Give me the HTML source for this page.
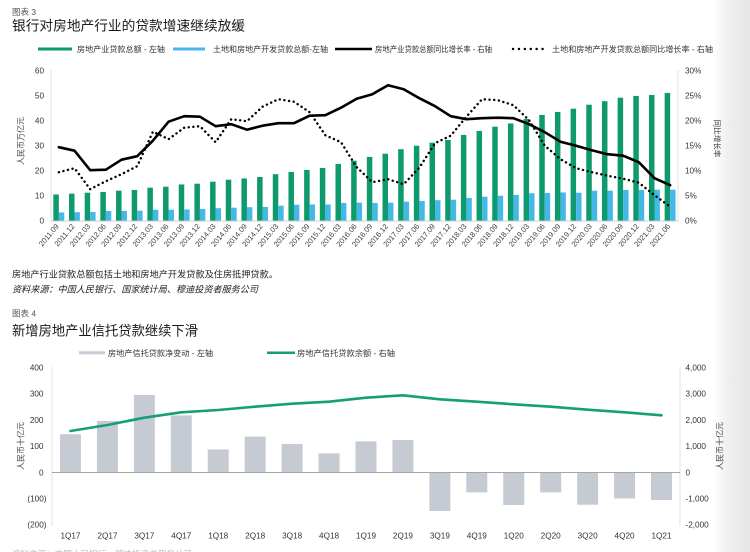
<!DOCTYPE html>
<html><head><meta charset="utf-8"><style>
html,body{margin:0;padding:0;background:#fff;}
svg{display:block;}
text{font-family:"Liberation Sans","Noto Sans CJK SC",sans-serif;}
</style></head><body>
<svg width="750" height="552" viewBox="0 0 750 552" xmlns="http://www.w3.org/2000/svg">
<defs>
<linearGradient id="edge" x1="0" y1="0" x2="1" y2="0">
<stop offset="0" stop-color="#ffffff"/>
<stop offset="0.45" stop-color="#eeeeee"/>
<stop offset="1" stop-color="#e7e7e7"/>
</linearGradient>
</defs>
<rect x="0" y="0" width="750" height="552" fill="#fff"/>
<rect x="713" y="0" width="37" height="552" fill="url(#edge)"/>

<!-- ===== Chart 3 header ===== -->
<text x="12" y="15" font-size="8.5" fill="#555">图表 3</text>
<text x="12" y="30.5" font-size="13.7" fill="#1a1a1a" textLength="233" lengthAdjust="spacingAndGlyphs">银行对房地产行业的贷款增速继续放缓</text>

<!-- legend -->
<rect x="38" y="47.5" width="34" height="3" fill="#0e9a6e"/>
<text x="77" y="52" font-size="8" fill="#333" textLength="88" lengthAdjust="spacingAndGlyphs">房地产业贷款总额 - 左轴</text>
<rect x="173" y="47.5" width="32" height="3" fill="#45b8e8"/>
<text x="213" y="52" font-size="8" fill="#333" textLength="115" lengthAdjust="spacingAndGlyphs">土地和房地产开发贷款总额-左轴</text>
<line x1="335" y1="49" x2="372" y2="49" stroke="#000" stroke-width="2.6"/>
<text x="375" y="52" font-size="8" fill="#333" textLength="117" lengthAdjust="spacingAndGlyphs">房地产业贷款总额同比增长率 - 右轴</text>
<line x1="513" y1="49" x2="548" y2="49" stroke="#000" stroke-width="2.4" stroke-linecap="round" stroke-dasharray="0.1 5.8"/>
<text x="552" y="52" font-size="8" fill="#333" textLength="161" lengthAdjust="spacingAndGlyphs">土地和房地产开发贷款总额同比增长率 - 右轴</text>

<!-- axes -->
<line x1="51" y1="70" x2="51" y2="221" stroke="#d9d9d9" stroke-width="0.8"/>
<line x1="678" y1="70" x2="678" y2="221" stroke="#d9d9d9" stroke-width="0.8"/>

<!-- left tick labels -->
<g font-size="8.2" fill="#333" text-anchor="end">
<text x="44" y="223.5">0</text>
<text x="44" y="198.5">10</text>
<text x="44" y="173.5">20</text>
<text x="44" y="148.5">30</text>
<text x="44" y="123.5">40</text>
<text x="44" y="98.5">50</text>
<text x="44" y="73.5">60</text>
</g>
<g font-size="8.2" fill="#333">
<text x="685" y="223.5">0%</text>
<text x="685" y="198.5">5%</text>
<text x="685" y="173.5">10%</text>
<text x="685" y="148.5">15%</text>
<text x="685" y="123.5">20%</text>
<text x="685" y="98.5">25%</text>
<text x="685" y="73.5">30%</text>
</g>
<text transform="translate(23.5,141) rotate(-90)" font-size="8" fill="#444" text-anchor="middle">人民币万亿元</text>
<text transform="translate(714.5,138.5) rotate(90)" font-size="7.6" fill="#444" text-anchor="middle">同比增长率</text>

<!-- bars chart 3 -->
<g transform="matrix(15.675,0,0,-2.5,51,220.7)" fill="#0e9a6e">
<rect x="0.149" y="0" width="0.351" height="10.5"/>
<rect x="1.149" y="0" width="0.351" height="10.8"/>
<rect x="2.149" y="0" width="0.351" height="11.2"/>
<rect x="3.149" y="0" width="0.351" height="11.5"/>
<rect x="4.149" y="0" width="0.351" height="12.0"/>
<rect x="5.149" y="0" width="0.351" height="12.3"/>
<rect x="6.149" y="0" width="0.351" height="13.2"/>
<rect x="7.149" y="0" width="0.351" height="13.6"/>
<rect x="8.149" y="0" width="0.351" height="14.5"/>
<rect x="9.149" y="0" width="0.351" height="14.8"/>
<rect x="10.149" y="0" width="0.351" height="15.6"/>
<rect x="11.149" y="0" width="0.351" height="16.4"/>
<rect x="12.149" y="0" width="0.351" height="16.9"/>
<rect x="13.149" y="0" width="0.351" height="17.5"/>
<rect x="14.149" y="0" width="0.351" height="18.6"/>
<rect x="15.149" y="0" width="0.351" height="19.5"/>
<rect x="16.149" y="0" width="0.351" height="20.3"/>
<rect x="17.149" y="0" width="0.351" height="21.1"/>
<rect x="18.149" y="0" width="0.351" height="22.7"/>
<rect x="19.149" y="0" width="0.351" height="24.0"/>
<rect x="20.149" y="0" width="0.351" height="25.5"/>
<rect x="21.149" y="0" width="0.351" height="26.8"/>
<rect x="22.149" y="0" width="0.351" height="28.6"/>
<rect x="23.149" y="0" width="0.351" height="30.0"/>
<rect x="24.149" y="0" width="0.351" height="31.2"/>
<rect x="25.149" y="0" width="0.351" height="32.3"/>
<rect x="26.149" y="0" width="0.351" height="34.3"/>
<rect x="27.149" y="0" width="0.351" height="35.9"/>
<rect x="28.149" y="0" width="0.351" height="37.6"/>
<rect x="29.149" y="0" width="0.351" height="38.9"/>
<rect x="30.149" y="0" width="0.351" height="40.7"/>
<rect x="31.149" y="0" width="0.351" height="42.3"/>
<rect x="32.149" y="0" width="0.351" height="43.5"/>
<rect x="33.149" y="0" width="0.351" height="44.8"/>
<rect x="34.149" y="0" width="0.351" height="46.4"/>
<rect x="35.149" y="0" width="0.351" height="47.8"/>
<rect x="36.149" y="0" width="0.351" height="49.2"/>
<rect x="37.149" y="0" width="0.351" height="49.9"/>
<rect x="38.149" y="0" width="0.351" height="50.3"/>
<rect x="39.149" y="0" width="0.351" height="51.1"/>
</g>
<g transform="matrix(15.675,0,0,-2.5,51,220.7)" fill="#45b8e8">
<rect x="0.5" y="0" width="0.345" height="3.3"/>
<rect x="1.5" y="0" width="0.345" height="3.4"/>
<rect x="2.5" y="0" width="0.345" height="3.5"/>
<rect x="3.5" y="0" width="0.345" height="3.9"/>
<rect x="4.5" y="0" width="0.345" height="3.9"/>
<rect x="5.5" y="0" width="0.345" height="4.0"/>
<rect x="6.5" y="0" width="0.345" height="4.4"/>
<rect x="7.5" y="0" width="0.345" height="4.4"/>
<rect x="8.5" y="0" width="0.345" height="4.5"/>
<rect x="9.5" y="0" width="0.345" height="4.7"/>
<rect x="10.5" y="0" width="0.345" height="5.0"/>
<rect x="11.5" y="0" width="0.345" height="5.2"/>
<rect x="12.5" y="0" width="0.345" height="5.4"/>
<rect x="13.5" y="0" width="0.345" height="5.5"/>
<rect x="14.5" y="0" width="0.345" height="6.0"/>
<rect x="15.5" y="0" width="0.345" height="6.4"/>
<rect x="16.5" y="0" width="0.345" height="6.5"/>
<rect x="17.5" y="0" width="0.345" height="6.5"/>
<rect x="18.5" y="0" width="0.345" height="7.1"/>
<rect x="19.5" y="0" width="0.345" height="7.2"/>
<rect x="20.5" y="0" width="0.345" height="7.1"/>
<rect x="21.5" y="0" width="0.345" height="7.2"/>
<rect x="22.5" y="0" width="0.345" height="7.6"/>
<rect x="23.5" y="0" width="0.345" height="7.9"/>
<rect x="24.5" y="0" width="0.345" height="8.2"/>
<rect x="25.5" y="0" width="0.345" height="8.4"/>
<rect x="26.5" y="0" width="0.345" height="9.1"/>
<rect x="27.5" y="0" width="0.345" height="9.6"/>
<rect x="28.5" y="0" width="0.345" height="10.0"/>
<rect x="29.5" y="0" width="0.345" height="10.3"/>
<rect x="30.5" y="0" width="0.345" height="11.0"/>
<rect x="31.5" y="0" width="0.345" height="11.1"/>
<rect x="32.5" y="0" width="0.345" height="11.3"/>
<rect x="33.5" y="0" width="0.345" height="11.2"/>
<rect x="34.5" y="0" width="0.345" height="12.0"/>
<rect x="35.5" y="0" width="0.345" height="12.0"/>
<rect x="36.5" y="0" width="0.345" height="12.3"/>
<rect x="37.5" y="0" width="0.345" height="12.3"/>
<rect x="38.5" y="0" width="0.345" height="12.4"/>
<rect x="39.5" y="0" width="0.345" height="12.4"/>
</g>
<line x1="51" y1="221" x2="678" y2="221" stroke="#bfbfbf" stroke-width="0.8"/>

<!-- solid growth line -->
<polyline fill="none" stroke="#000" stroke-width="2.6" stroke-linejoin="round" stroke-linecap="round" points="58.84,147.2 74.51,150.7 90.19,170.2 105.86,169.7 121.54,159.7 137.21,156.2 152.89,140.7 168.56,121.7 184.24,116.2 199.91,116.7 215.59,126.2 231.26,124.2 246.94,129.7 262.61,125.7 278.29,123.2 293.96,123.2 309.64,115.7 325.31,115.2 340.99,107.7 356.66,98.7 372.34,94.2 388.01,85.2 403.69,89.2 419.36,98.2 435.04,106.2 450.71,116.2 466.39,119.2 482.06,118.2 497.74,117.7 513.41,118.2 529.09,124.2 544.76,132.2 560.44,141.7 576.11,145.7 591.79,150.2 607.46,154.2 623.14,155.7 638.81,162.2 654.49,178.2 670.16,185.2"/>
<!-- dotted growth line -->
<polyline fill="none" stroke="#000" stroke-width="2.4" stroke-linejoin="round" stroke-linecap="round" stroke-dasharray="0.1 4.6" points="58.84,172.2 74.51,168.2 90.19,189.2 105.86,181.2 121.54,174.2 137.21,166.2 152.89,131.7 168.56,139.2 184.24,127.7 199.91,126.2 215.59,142.2 231.26,119.2 246.94,121.2 262.61,106.7 278.29,99.2 293.96,101.7 309.64,112.2 325.31,135.2 340.99,142.2 356.66,167.2 372.34,182.2 388.01,179.2 403.69,184.2 419.36,167.7 435.04,143.2 450.71,135.7 466.39,116.7 482.06,99.2 497.74,100.2 513.41,105.2 529.09,120.2 544.76,145.7 560.44,159.2 576.11,168.2 591.79,172.2 607.46,175.7 623.14,178.7 638.81,182.7 654.49,195.2 670.16,206.7"/>

<!-- x labels chart 3 -->
<g font-size="7.5" fill="#404040" text-anchor="end">
<text transform="translate(59.3,226.5) rotate(-50)">2011.09</text>
<text transform="translate(75.0,226.5) rotate(-50)">2011.12</text>
<text transform="translate(90.7,226.5) rotate(-50)">2012.03</text>
<text transform="translate(106.4,226.5) rotate(-50)">2012.06</text>
<text transform="translate(122.0,226.5) rotate(-50)">2012.09</text>
<text transform="translate(137.7,226.5) rotate(-50)">2012.12</text>
<text transform="translate(153.4,226.5) rotate(-50)">2013.03</text>
<text transform="translate(169.1,226.5) rotate(-50)">2013.06</text>
<text transform="translate(184.7,226.5) rotate(-50)">2013.09</text>
<text transform="translate(200.4,226.5) rotate(-50)">2013.12</text>
<text transform="translate(216.1,226.5) rotate(-50)">2014.03</text>
<text transform="translate(231.8,226.5) rotate(-50)">2014.06</text>
<text transform="translate(247.4,226.5) rotate(-50)">2014.09</text>
<text transform="translate(263.1,226.5) rotate(-50)">2014.12</text>
<text transform="translate(278.8,226.5) rotate(-50)">2015.03</text>
<text transform="translate(294.5,226.5) rotate(-50)">2015.06</text>
<text transform="translate(310.1,226.5) rotate(-50)">2015.09</text>
<text transform="translate(325.8,226.5) rotate(-50)">2015.12</text>
<text transform="translate(341.5,226.5) rotate(-50)">2016.03</text>
<text transform="translate(357.2,226.5) rotate(-50)">2016.06</text>
<text transform="translate(372.8,226.5) rotate(-50)">2016.09</text>
<text transform="translate(388.5,226.5) rotate(-50)">2016.12</text>
<text transform="translate(404.2,226.5) rotate(-50)">2017.03</text>
<text transform="translate(419.9,226.5) rotate(-50)">2017.06</text>
<text transform="translate(435.5,226.5) rotate(-50)">2017.09</text>
<text transform="translate(451.2,226.5) rotate(-50)">2017.12</text>
<text transform="translate(466.9,226.5) rotate(-50)">2018.03</text>
<text transform="translate(482.6,226.5) rotate(-50)">2018.06</text>
<text transform="translate(498.2,226.5) rotate(-50)">2018.09</text>
<text transform="translate(513.9,226.5) rotate(-50)">2018.12</text>
<text transform="translate(529.6,226.5) rotate(-50)">2019.03</text>
<text transform="translate(545.3,226.5) rotate(-50)">2019.06</text>
<text transform="translate(560.9,226.5) rotate(-50)">2019.09</text>
<text transform="translate(576.6,226.5) rotate(-50)">2019.12</text>
<text transform="translate(592.3,226.5) rotate(-50)">2020.03</text>
<text transform="translate(608.0,226.5) rotate(-50)">2020.06</text>
<text transform="translate(623.6,226.5) rotate(-50)">2020.09</text>
<text transform="translate(639.3,226.5) rotate(-50)">2020.12</text>
<text transform="translate(655.0,226.5) rotate(-50)">2021.03</text>
<text transform="translate(670.7,226.5) rotate(-50)">2021.06</text>
</g>

<!-- footnotes -->
<text x="12" y="277.5" font-size="9.2" fill="#222" textLength="266" lengthAdjust="spacingAndGlyphs">房地产行业贷款总额包括土地和房地产开发贷款及住房抵押贷款。</text>
<text x="12" y="292.5" font-size="9.2" fill="#222" font-style="italic" textLength="246" lengthAdjust="spacingAndGlyphs">资料来源：中国人民银行、国家统计局、穆迪投资者服务公司</text>

<!-- ===== Chart 4 header ===== -->
<text x="12" y="316.5" font-size="8.5" fill="#555">图表 4</text>
<text x="12" y="335.5" font-size="13.5" fill="#1a1a1a" textLength="186" lengthAdjust="spacingAndGlyphs">新增房地产业信托贷款继续下滑</text>

<!-- legend -->
<rect x="79" y="351.3" width="26" height="3" fill="#c6cbd3"/>
<text x="108" y="356" font-size="8" fill="#333" textLength="105" lengthAdjust="spacingAndGlyphs">房地产信托贷款净变动 - 左轴</text>
<line x1="267" y1="352.8" x2="295" y2="352.8" stroke="#169f76" stroke-width="2.5"/>
<text x="297" y="356" font-size="8" fill="#333" textLength="98" lengthAdjust="spacingAndGlyphs">房地产信托贷款余额 - 右轴</text>

<!-- axes -->
<line x1="52" y1="367" x2="52" y2="526" stroke="#d9d9d9" stroke-width="0.8"/>
<line x1="680" y1="367" x2="680" y2="526" stroke="#d9d9d9" stroke-width="0.8"/>

<g font-size="8.2" fill="#333" text-anchor="end">
<text x="43.5" y="370.5">400</text>
<text x="43.5" y="396.7">300</text>
<text x="43.5" y="422.9">200</text>
<text x="43.5" y="449.1">100</text>
<text x="43.5" y="475.3">0</text>
<text x="46.5" y="501.5">(100)</text>
<text x="46.5" y="527.7">(200)</text>
</g>
<g font-size="8.2" fill="#333">
<text x="685.5" y="370.5">4,000</text>
<text x="685.5" y="396.7">3,000</text>
<text x="685.5" y="422.9">2,000</text>
<text x="685.5" y="449.1">1,000</text>
<text x="685.5" y="475.3">0</text>
<text x="685.5" y="501.5">-1,000</text>
<text x="685.5" y="527.7">-2,000</text>
</g>
<text transform="translate(23.5,446) rotate(-90)" font-size="8" fill="#444" text-anchor="middle">人民币十亿元</text>
<text transform="translate(722.5,446) rotate(-90)" font-size="8" fill="#444" text-anchor="middle">人民币十亿元</text>

<!-- bars chart 4 -->
<g transform="matrix(36.94,0,0,-0.262,52,472.5)" fill="#c6cbd3">
<rect x="0.2157" y="0" width="0.5685" height="146"/>
<rect x="1.2157" y="0" width="0.5685" height="197"/>
<rect x="2.2157" y="0" width="0.5685" height="296"/>
<rect x="3.2157" y="0" width="0.5685" height="218"/>
<rect x="4.2157" y="0" width="0.5685" height="88"/>
<rect x="5.2157" y="0" width="0.5685" height="137"/>
<rect x="6.2157" y="0" width="0.5685" height="109"/>
<rect x="7.2157" y="0" width="0.5685" height="73"/>
<rect x="8.2157" y="0" width="0.5685" height="119"/>
<rect x="9.2157" y="0" width="0.5685" height="124"/>
<rect x="10.2157" y="-147" width="0.5685" height="147"/>
<rect x="11.2157" y="-76" width="0.5685" height="76"/>
<rect x="12.2157" y="-124" width="0.5685" height="124"/>
<rect x="13.2157" y="-76" width="0.5685" height="76"/>
<rect x="14.2157" y="-123" width="0.5685" height="123"/>
<rect x="15.2157" y="-99" width="0.5685" height="99"/>
<rect x="16.2157" y="-105" width="0.5685" height="105"/>
</g>
<line x1="52" y1="472.5" x2="680" y2="472.5" stroke="#a6a6a6" stroke-width="0.9"/>

<polyline fill="none" stroke="#169f76" stroke-width="2.6" stroke-linejoin="round" stroke-linecap="round" points="70.47,431.0 107.41,425.0 144.35,417.7 181.29,412.3 218.23,410.0 255.17,406.7 292.11,403.7 329.05,401.7 365.99,397.7 402.93,395.3 439.87,399.3 476.81,401.7 513.75,404.3 550.69,406.7 587.63,409.7 624.57,412.3 661.51,415.3"/>

<g font-size="8.2" fill="#333" text-anchor="middle">
<text x="70.47" y="538.5">1Q17</text>
<text x="107.41" y="538.5">2Q17</text>
<text x="144.35" y="538.5">3Q17</text>
<text x="181.29" y="538.5">4Q17</text>
<text x="218.23" y="538.5">1Q18</text>
<text x="255.17" y="538.5">2Q18</text>
<text x="292.11" y="538.5">3Q18</text>
<text x="329.05" y="538.5">4Q18</text>
<text x="365.99" y="538.5">1Q19</text>
<text x="402.93" y="538.5">2Q19</text>
<text x="439.87" y="538.5">3Q19</text>
<text x="476.81" y="538.5">4Q19</text>
<text x="513.75" y="538.5">1Q20</text>
<text x="550.69" y="538.5">2Q20</text>
<text x="587.63" y="538.5">3Q20</text>
<text x="624.57" y="538.5">4Q20</text>
<text x="661.51" y="538.5">1Q21</text>
</g>

<!-- faint cut-off text at bottom -->
<text x="12" y="557.5" font-size="9" fill="#bbb" textLength="180" lengthAdjust="spacingAndGlyphs">资料来源：中国人民银行、穆迪投资者服务公司</text>
</svg>
</body></html>
